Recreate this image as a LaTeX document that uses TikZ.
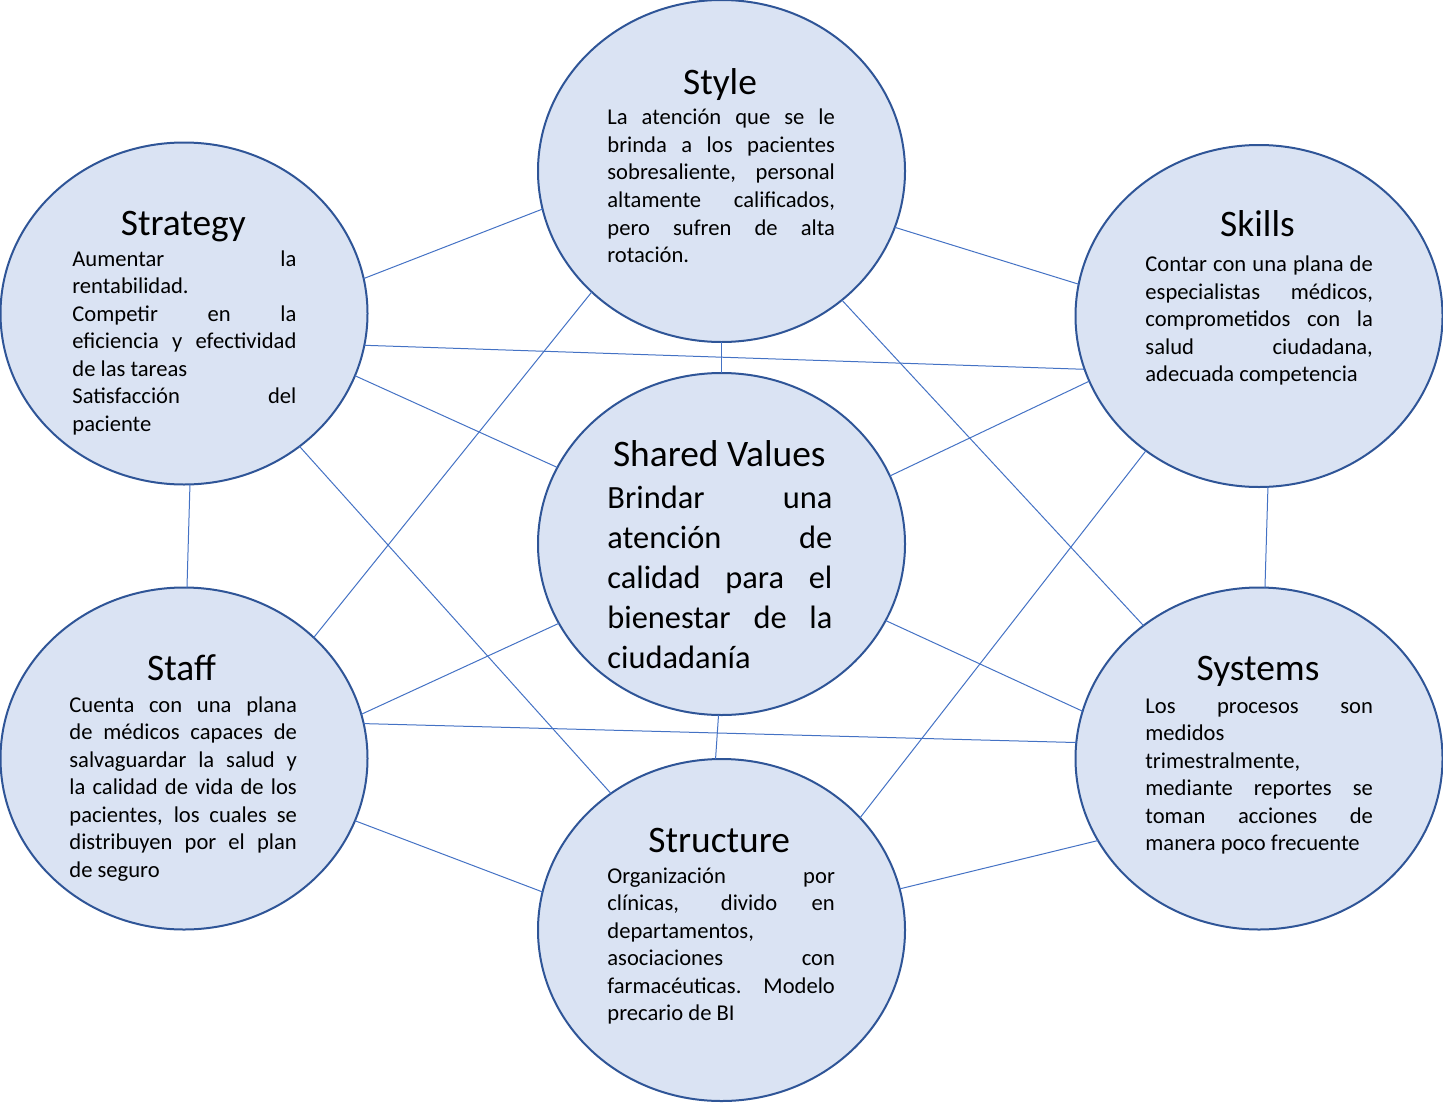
\documentclass[tikz,border=0pt]{standalone}
\usepackage{fontspec}
\setmainfont{Carlito}
\usetikzlibrary{shapes.geometric}
\definecolor{ovalfill}{HTML}{DAE3F3}
\definecolor{ovalline}{HTML}{2F5597}
\definecolor{linkline}{HTML}{4472C4}
\setlength{\parindent}{0pt}
\tolerance=10000
\hbadness=10000
\hyphenpenalty=10000
\exhyphenpenalty=10000

\begin{document}
\begin{tikzpicture}[x=0.5pt, y=-0.5pt,
    oval/.style={ellipse, draw=ovalline, fill=ovalfill, line width=1pt,
        minimum width=183.5pt, minimum height=171pt, inner sep=0pt, outer sep=0pt},
    heading/.style={anchor=base, inner sep=0pt, font=\fontsize{18.7}{22}\selectfont},
    desc/.style={anchor=base west, inner sep=0pt, text width=113.75pt, align=justify,
        font=\fontsize{11.3}{13.75}\selectfont},
    bigdesc/.style={desc, text width=112.5pt, font=\fontsize{16.2}{20}\selectfont},
    link/.style={draw=linkline, line width=0.5pt}]
    \useasboundingbox (0,0) rectangle (1443,1102);

    % ovals
    \node[oval] (style) at (721.5,171) {};
    \node[oval] (strategy) at (184,313.5) {};
    \node[oval] (skills) at (1259,316) {};
    \node[oval] (values) at (721.5,544) {};
    \node[oval] (staff) at (184,758.5) {};
    \node[oval] (systems) at (1259,758.5) {};
    \node[oval] (structure) at (721.5,930) {};

    % links
    \draw[link] (strategy.11.5) -- (style.192.5);
    \draw[link] (style.-18.3) -- (skills.170.6);
    \draw[link] (strategy.-10.8) -- (skills.197.9);
    \draw[link] (strategy.-20.7) -- (values.155.9);
    \draw[link] (style.-90) -- (values.90);
    \draw[link] (skills.201.6) -- (values.22.7);
    \draw[link] (style.223.5) -- (staff.43.7);
    \draw[link] (style.-47.9) -- (systems.131.9);
    \draw[link] (strategy.-49) -- (structure.129.8);
    \draw[link] (skills.230.8) -- (structure.39.2);
    \draw[link] (strategy.-88.3) -- (staff.89.4);
    \draw[link] (skills.-87.1) -- (systems.88.2);
    \draw[link] (staff.14.3) -- (values.206.2);
    \draw[link] (systems.165.4) -- (values.-25.6);
    \draw[link] (staff.11.7) -- (systems.175.5);
    \draw[link] (staff.-20.8) -- (structure.168.1);
    \draw[link] (structure.13.2) -- (systems.207.6);
    \draw[link] (values.-91.8) -- (structure.92.5);

    % Style
    \node[heading] (styleT) at (720,95) {Style};
    \node[desc] (styleD) at (607,125) {La atención que se le \linebreak
        brinda a los pacientes \linebreak sobresaliente, personal \linebreak
        altamente calificados, \linebreak pero sufren de alta \linebreak rotación.};
    % Strategy
    \node[heading] (strategyT) at (183.3,235) {Strategy};
    \node[desc, text width=112pt] (strategyD) at (72,266) {Aumentar la \linebreak
        rentabilidad.\par Competir en la \linebreak eficiencia y efectividad \linebreak
        de las tareas\par Satisfacción del \linebreak paciente};
    % Skills
    \node[heading] (skillsT) at (1257.5,236.7) {Skills};
    \node[desc] (skillsD) at (1145,271.7) {Contar con una plana de \linebreak
        especialistas médicos, \linebreak comprometidos con la \linebreak
        salud ciudadana, \linebreak adecuada~competencia};
    % Shared Values
    \node[heading] (valuesT) at (719.3,466.7) {Shared Values};
    \node[bigdesc] (valuesD) at (607,508.3) {Brindar una \linebreak atención de \linebreak
        calidad para el \linebreak bienestar de la \linebreak ciudadanía};
    % Staff
    \node[heading] (staffT) at (181.5,680.7) {Staff};
    \node[desc] (staffD) at (69,712.3) {Cuenta con una plana \linebreak
        de médicos capaces de \linebreak salvaguardar la salud y \linebreak
        la calidad de vida de los \linebreak pacientes, los cuales se \linebreak
        distribuyen por el plan \linebreak de seguro};
    % Systems
    \node[heading] (systemsT) at (1258,680) {Systems};
    \node[desc] (systemsD) at (1145,713.3) {Los procesos son \linebreak
        medidos\newline trimestralmente,\newline mediante reportes se \linebreak
        toman acciones de \linebreak manera poco frecuente};
    % Structure
    \node[heading] (structureT) at (719.2,852.3) {Structure};
    \node[desc] (structureD) at (607,883.3) {Organización por \linebreak
        clínicas, divido en \linebreak departamentos,\newline
        asociaciones con \linebreak farmacéuticas. Modelo \linebreak precario de BI};
\end{tikzpicture}
\end{document}
